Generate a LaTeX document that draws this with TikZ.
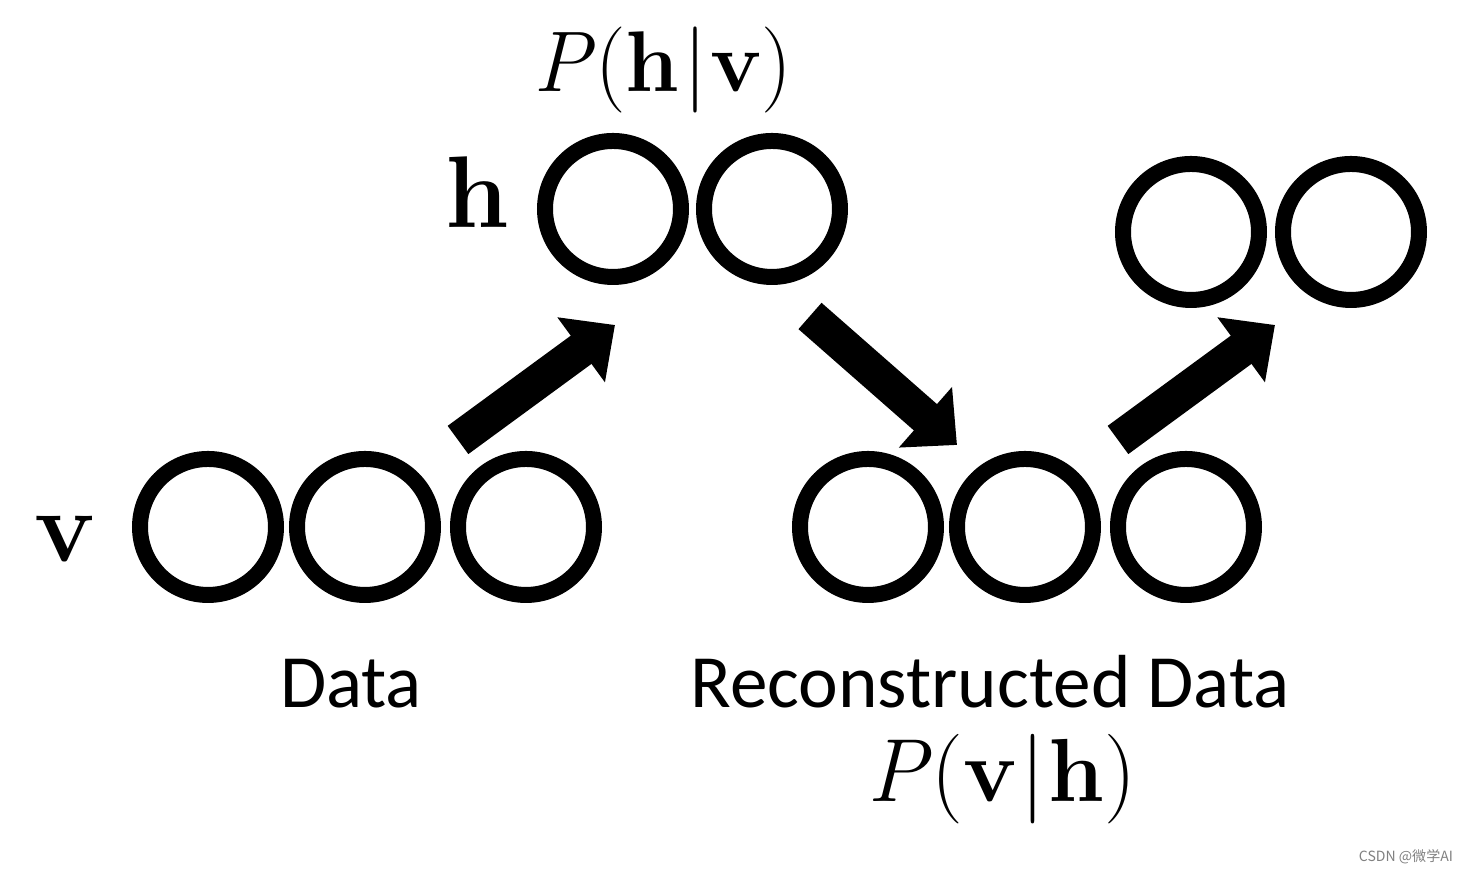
\documentclass[tikz,border=0pt]{standalone}
\usepackage{amsmath}
\usepackage{amssymb}
\usepackage{fontspec}
\usepackage{tikz}
\usepackage{xcolor}
\usetikzlibrary{arrows.meta}
\newfontfamily\labelfont{Carlito}
\newfontfamily\cjkfont{Noto Sans CJK SC}

\begin{document}
\begin{tikzpicture}[
  unit/.style={circle,draw,line width=0.16cm,minimum size=1.36cm,inner sep=0pt},
  flow/.style={line width=0.35cm,-{Triangle[width=0.78cm,length=0.42cm]}},
  caption/.style={font=\labelfont\fontsize{21.4}{25}\selectfont,anchor=base,inner sep=0pt},
  layer/.style={font=\bfseries\fontsize{29}{33}\selectfont,anchor=base,inner sep=0pt},
  prob/.style={font=\fontsize{24.5}{28}\selectfont,anchor=base,inner sep=0pt}]
\useasboundingbox (0,0) rectangle (14.65,8.73);
\node[unit] (v1) at (2.08,3.46) {};
\node[unit] (v2) at (3.65,3.46) {};
\node[unit] (v3) at (5.26,3.46) {};
\node[unit] (h1) at (6.13,6.64) {};
\node[unit] (h2) at (7.72,6.64) {};
\node[unit] (r1) at (8.68,3.46) {};
\node[unit] (r2) at (10.25,3.46) {};
\node[unit] (r3) at (11.86,3.46) {};
\node[unit] (g1) at (11.91,6.41) {};
\node[unit] (g2) at (13.51,6.41) {};
\node[layer] (vlab) at (0.65,3.11) {v};
\node[layer] (hlab) at (4.77,6.45) {h};
\node[prob] (phv) at (6.63,7.81) {\textit{P\/}(\textbf{h}\kern1pt|\kern1pt\textbf{v})};
\node[prob,font=\fontsize{25.5}{29}\selectfont] (pvh) at (10.02,0.71) {\textit{P\/}(\textbf{v}\kern1pt|\kern1pt\textbf{h})};
\node[caption] (data) at (3.51,1.65) {Data};
\node[caption] (recon) at (9.90,1.65) {Reconstructed Data};
\node[anchor=base,inner sep=0pt,text=gray,font=\cjkfont\fontsize{4}{5}\selectfont] (mark) at (14.06,0.11) {CSDN @微学AI};
\coordinate (vs) at (4.58,4.33);
\coordinate (ht) at (6.15,5.48);
\coordinate (hs) at (8.10,5.57);
\coordinate (rt) at (9.57,4.28);
\coordinate (rs) at (11.18,4.33);
\coordinate (gt) at (12.75,5.48);
\draw[flow] (vs)--(ht);
\draw[flow] (hs)--(rt);
\draw[flow] (rs)--(gt);
\end{tikzpicture}
\end{document}
